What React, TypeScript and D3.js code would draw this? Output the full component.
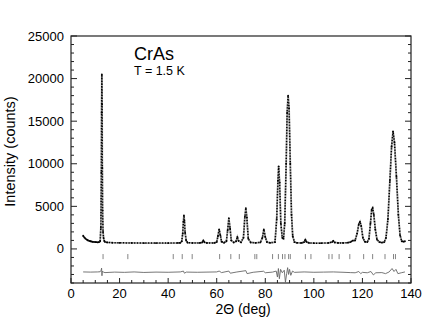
import React from "react";
import * as d3 from "d3";

const observed: [number, number][] = [
  [5.0, 1550], [5.5, 1350], [6, 1200], [6.5, 1100], [7, 1000], [7.5, 950], [8, 900],
  [8.5, 870], [9, 840], [9.5, 820], [10, 800], [10.5, 790], [11, 780], [11.5, 790],
  [12, 900], [12.3, 2500], [12.5, 9000], [12.6, 16000], [12.7, 20500], [12.8, 17000],
  [12.9, 9500], [13.0, 4500], [13.2, 2000], [13.4, 1300], [13.7, 950], [14, 820],
  [15, 760], [17, 730], [20, 720], [25, 700], [30, 690], [35, 690], [40, 690],
  [44, 700], [45, 720], [45.6, 900], [46, 1800], [46.3, 3200], [46.5, 3950],
  [46.7, 3300], [47, 1900], [47.4, 1000], [48, 740], [50, 700], [53, 700], [54, 760],
  [54.5, 1000], [55, 780], [56, 710], [59, 710], [60, 800], [60.5, 1500], [61, 2300],
  [61.5, 1600], [62, 850], [63, 720], [64, 900], [64.5, 2200], [65, 3600], [65.5, 2400],
  [66, 1000], [67, 760], [68, 900], [68.5, 1400], [69, 950], [70, 780], [71, 1300],
  [71.6, 3800], [72, 4800], [72.4, 3700], [73, 1200], [74, 760], [76, 720], [78, 780],
  [78.8, 1300], [79.4, 2300], [80, 1400], [80.7, 800], [82, 720], [84, 800],
  [84.7, 3500], [85.2, 8000], [85.5, 9700], [85.9, 7800], [86.4, 3000], [87, 1300],
  [87.5, 1200], [88, 3000], [88.6, 10000], [89, 16000], [89.4, 18000], [89.8, 16500],
  [90.3, 10000], [90.8, 4000], [91.3, 1500], [92, 800], [93, 720], [95, 700], [96, 800],
  [96.5, 1100], [97, 820], [98, 710], [100, 680], [103, 680], [106, 700], [107.5, 800],
  [108, 940], [108.6, 760], [110, 700], [112, 700], [114, 730], [115, 800], [116, 970],
  [117, 1000], [117.8, 1800], [118.5, 2900], [119, 3200], [119.5, 2700], [120.2, 1300],
  [121, 850], [122, 800], [122.7, 1200], [123.3, 3000], [123.8, 4600], [124.2, 4800],
  [124.7, 4000], [125.3, 2300], [126, 1100], [127, 800], [128, 750], [129, 800],
  [129.7, 1300], [130.5, 3500], [131.3, 8000], [132, 12000], [132.6, 13800],
  [133.2, 12500], [134, 8500], [134.8, 4000], [135.5, 1600], [136.2, 900], [137, 850],
  [137.5, 900],
];

// observed minus calculated, shifted below the pattern
const difference: [number, number][] = [
  [5, -2700], [8, -2720], [11, -2700], [12, -2680], [12.4, -2500], [12.6, -2250],
  [12.75, -3150], [12.9, -2600], [13.3, -2720], [14, -2780], [18, -2720], [22, -2750],
  [26, -2700], [30, -2760], [35, -2720], [40, -2740], [45, -2700], [46.3, -2600],
  [46.7, -2850], [47.5, -2720], [52, -2740], [56, -2720], [60, -2700], [61, -2600],
  [62, -2780], [65, -2600], [65.6, -2850], [68, -2720], [72, -2550], [72.5, -2900],
  [75, -2740], [79.3, -2620], [80, -2800], [83, -2720], [84.5, -2600], [85, -3300],
  [85.4, -2300], [85.8, -3500], [86.3, -2400], [87, -2800], [87.8, -2500], [88.3, -3900],
  [88.8, -2900], [89.2, -2200], [89.6, -3000], [90, -2400], [90.5, -3100], [91.2, -2600],
  [92, -2750], [96, -2700], [100, -2740], [104, -2720], [108, -2700], [112, -2740],
  [115, -2780], [117, -2800], [118.5, -2650], [119.3, -2900], [120, -2750], [122, -2800],
  [123.5, -2650], [124.5, -3050], [125.5, -2800], [128, -2780], [129.5, -2900],
  [131, -2700], [132.2, -2300], [133, -2650], [133.8, -2400], [134.6, -2900],
  [136, -2800], [137.5, -2700],
];

// Bragg reflection positions (deg)
const reflections = [
  13.2, 23.4, 42.1, 45.8, 49.9, 61.2, 65.8, 69.3, 75.7, 76.5, 83.0, 85.4, 87.1, 88.1,
  89.6, 90.3, 96.5, 98.8, 106.2, 107.5, 110.4, 114.8, 120.5, 124.2, 129.3, 132.8, 133.6,
];
const reflectionBand = [-600, -1200];

const xTicks = [0, 20, 40, 60, 80, 100, 120, 140];
const yTicks = [0, 5000, 10000, 15000, 20000, 25000];

const W = 436;
const H = 330;
const margin = { top: 36, right: 25, bottom: 47, left: 71 };
const font = "'Liberation Sans', Arial, Helvetica, sans-serif";

export default function App() {
  const iw = W - margin.left - margin.right;
  const ih = H - margin.top - margin.bottom;

  const x = d3.scaleLinear().domain([0, 140]).range([0, iw]);
  const y = d3.scaleLinear().domain([-4000, 25000]).range([ih, 0]);

  const line = d3
    .line<[number, number]>()
    .x((d) => x(d[0]))
    .y((d) => y(d[1]));

  const xMinor = d3.range(0, 141, 5).filter((v) => v % 20 !== 0);
  const yMinor = d3.range(-4000, 25001, 1000).filter((v) => v % 5000 !== 0);
  const axisColor = "#222";

  return (
    <svg
      width={W}
      height={H}
      style={{ position: "absolute", left: 0, top: 0, background: "#fff" }}
      fontFamily={font}
    >
      <defs>
        <clipPath id="plot">
          <rect x={0} y={0} width={iw} height={ih} />
        </clipPath>
      </defs>
      <g transform={`translate(${margin.left},${margin.top})`}>
        <g clipPath="url(#plot)">
          {/* calculated profile */}
          <path d={line(observed) ?? ""} fill="none" stroke="#9a9a9a" strokeWidth={1.8} />
          {/* observed points */}
          <path
            d={line(observed) ?? ""}
            fill="none"
            stroke="#000"
            strokeWidth={1.5}
            strokeDasharray="1.2 1.6"
          />
          {observed.map((d, i) => (
            <circle key={i} cx={x(d[0])} cy={y(d[1])} r={0.9} fill="#000" />
          ))}
          {/* reflection markers */}
          {reflections.map((r, i) => (
            <line
              key={i}
              x1={x(r)}
              x2={x(r)}
              y1={y(reflectionBand[0])}
              y2={y(reflectionBand[1])}
              stroke="#666"
              strokeWidth={0.8}
            />
          ))}
          {/* difference curve */}
          <path d={line(difference) ?? ""} fill="none" stroke="#666" strokeWidth={0.9} />
        </g>

        {/* frame */}
        <rect x={0} y={0} width={iw} height={ih} fill="none" stroke={axisColor} strokeWidth={1.2} />

        {/* bottom ticks */}
        {xTicks.map((t) => (
          <g key={t} transform={`translate(${x(t)},${ih})`}>
            <line y1={0} y2={-5} stroke={axisColor} />
            <text y={15} textAnchor="middle" fontSize={13} fill="#000">
              {t}
            </text>
          </g>
        ))}
        {xMinor.map((t) => (
          <line key={t} x1={x(t)} x2={x(t)} y1={ih} y2={ih - 3} stroke={axisColor} />
        ))}

        {/* left and right ticks */}
        {yTicks.map((t) => (
          <g key={t}>
            <line x1={0} x2={6} y1={y(t)} y2={y(t)} stroke={axisColor} />
            <line x1={iw} x2={iw - 6} y1={y(t)} y2={y(t)} stroke={axisColor} />
            <text x={-7} y={y(t)} dy="0.35em" textAnchor="end" fontSize={13} fill="#000">
              {t}
            </text>
          </g>
        ))}
        {yMinor.map((t) => (
          <g key={t}>
            <line x1={0} x2={3} y1={y(t)} y2={y(t)} stroke={axisColor} />
            <line x1={iw} x2={iw - 3} y1={y(t)} y2={y(t)} stroke={axisColor} />
          </g>
        ))}

        {/* labels */}
        <text x={iw / 2 + 2} y={ih + 31} textAnchor="middle" fontSize={14}>
          2Θ (deg)
        </text>
        <text
          transform={`translate(${-56},${ih / 2 - 8}) rotate(-90)`}
          textAnchor="middle"
          fontSize={14.5}
        >
          Intensity (counts)
        </text>
        <text x={63} y={24} fontSize={18}>
          CrAs
        </text>
        <text x={63} y={39} fontSize={12.5}>
          T = 1.5 K
        </text>
      </g>
    </svg>
  );
}
